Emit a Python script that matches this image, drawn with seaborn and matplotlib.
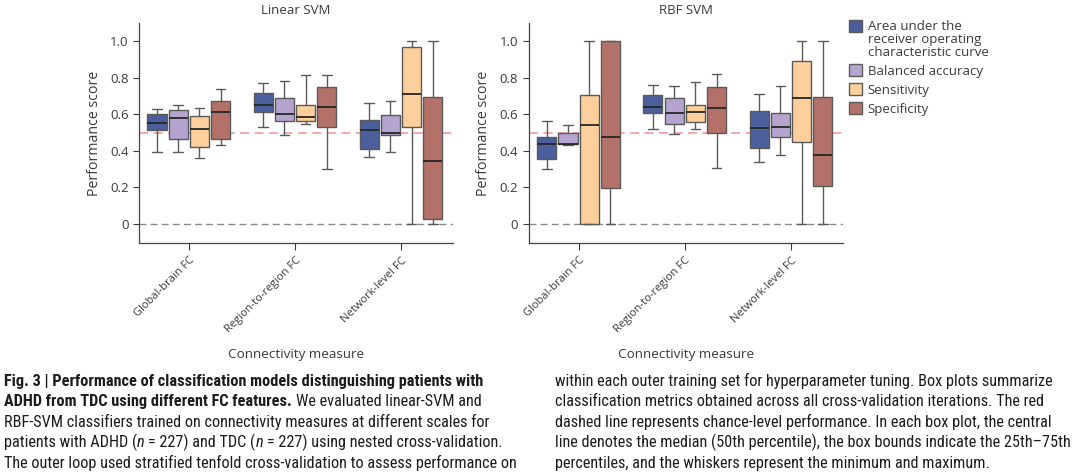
import numpy as np
import pandas as pd
import matplotlib
matplotlib.use("Agg")
import matplotlib.pyplot as plt
import seaborn as sns
from matplotlib import font_manager
from matplotlib.legend_handler import HandlerPatch

# ---------------- data ----------------
measures = ["Global-brain FC", "Region-to-region FC", "Network-level FC"]
metrics = ["AUC", "Balanced accuracy", "Sensitivity", "Specificity"]
metric_labels = ["Area under the\nreceiver operating\ncharacteristic curve",
                 "Balanced accuracy", "Sensitivity", "Specificity"]
palette = ["#4A5F9B", "#B5A4D0", "#FDCF9C", "#B3716A"]

# five-number summaries per measure: [min, q1, median, q3, max]
linear_auc = [[0.396, 0.516, 0.551, 0.600, 0.630],
              [0.531, 0.613, 0.651, 0.714, 0.770],
              [0.365, 0.409, 0.516, 0.566, 0.664]]
linear_bacc = [[0.396, 0.464, 0.577, 0.622, 0.653],
               [0.485, 0.562, 0.600, 0.686, 0.779],
               [0.396, 0.485, 0.500, 0.595, 0.673]]
linear_sens = [[0.361, 0.422, 0.520, 0.591, 0.633],
               [0.546, 0.562, 0.584, 0.650, 0.816],
               [0.000, 0.533, 0.712, 0.965, 1.000]]
linear_spec = [[0.431, 0.464, 0.613, 0.670, 0.737],
               [0.301, 0.533, 0.642, 0.748, 0.816],
               [0.000, 0.029, 0.347, 0.693, 1.000]]

rbf_auc = [[0.299, 0.356, 0.440, 0.478, 0.564],
           [0.520, 0.609, 0.639, 0.703, 0.759],
           [0.341, 0.414, 0.524, 0.619, 0.708]]
rbf_bacc = [[0.434, 0.436, 0.438, 0.496, 0.540],
            [0.491, 0.546, 0.606, 0.688, 0.752],
            [0.380, 0.473, 0.533, 0.606, 0.752]]
rbf_sens = [[0.000, 0.000, 0.540, 0.706, 1.000],
            [0.520, 0.558, 0.611, 0.650, 0.774],
            [0.000, 0.447, 0.690, 0.892, 1.000]]
rbf_spec = [[0.000, 0.195, 0.476, 1.000, 1.000],
            [0.305, 0.500, 0.633, 0.748, 0.819],
            [0.000, 0.206, 0.376, 0.693, 1.000]]

models = {"Linear SVM": [linear_auc, linear_bacc, linear_sens, linear_spec],
          "RBF SVM": [rbf_auc, rbf_bacc, rbf_sens, rbf_spec]}

chance_level = 0.5
yticks = [0, 0.2, 0.4, 0.6, 0.8, 1.0]
ytick_labels = ["0", "0.2", "0.4", "0.6", "0.8", "1.0"]

caption_left = [
    [("Fig. 3 | Performance of classification models distinguishing patients with", "bold", "normal")],
    [("ADHD from TDC using different FC features.", "bold", "normal"),
     (" We evaluated linear-SVM and", "normal", "normal")],
    [("RBF-SVM classifiers trained on connectivity measures at different scales for", "normal", "normal")],
    [("patients with ADHD (", "normal", "normal"), ("n", "normal", "italic"),
     (" = 227) and TDC (", "normal", "normal"), ("n", "normal", "italic"),
     (" = 227) using nested cross-validation.", "normal", "normal")],
    [("The outer loop used stratified tenfold cross-validation to assess performance on", "normal", "normal")],
]
caption_right = [
    [("within each outer training set for hyperparameter tuning. Box plots summarize", "normal", "normal")],
    [("classification metrics obtained across all cross-validation iterations. The red", "normal", "normal")],
    [("dashed line represents chance-level performance. In each box plot, the central", "normal", "normal")],
    [("line denotes the median (50th percentile), the box bounds indicate the 25th\u201375th", "normal", "normal")],
    [("percentiles, and the whiskers represent the minimum and maximum.", "normal", "normal")],
]

# ---------------- styling ----------------
sns.set_style("ticks")
avail = {f.name for f in font_manager.fontManager.ttflist}
chart_font = "Open Sans" if "Open Sans" in avail else "DejaVu Sans"
plt.rcParams["font.family"] = [chart_font, "DejaVu Sans"]
cap_font = "Liberation Sans"
for cand in ["Liberation Sans Narrow", "Roboto Condensed", "DejaVu Sans Condensed"]:
    if cand in avail:
        cap_font = cand
        break

text_col = "#3a3a3a"
fig = plt.figure(figsize=(10.8, 4.75), dpi=100)

W, H = 1080, 475
ax_px = [(139, 22.7, 453, 243.3), (528.7, 22.7, 843, 243.3)]


class TopAlignedPatch(HandlerPatch):
    """Legend square aligned with the first line of a multi-line label."""

    def __init__(self, shift, **kw):
        super().__init__(**kw)
        self.shift = shift

    def create_artists(self, legend, orig_handle, xdescent, ydescent,
                       width, height, fontsize, trans):
        return super().create_artists(legend, orig_handle, xdescent,
                                      ydescent - self.shift, width, height,
                                      fontsize, trans)


for i, (name, arrs) in enumerate(models.items()):
    x0, y0, x1, y1 = ax_px[i]
    ax = fig.add_axes([x0 / W, 1 - y1 / H, (x1 - x0) / W, (y1 - y0) / H])
    rows = []
    for mi, metric in enumerate(metrics):
        for gi, meas in enumerate(measures):
            for v in arrs[mi][gi]:
                rows.append({"measure": meas, "metric": metric, "score": v})
    df = pd.DataFrame(rows)
    ax.axhline(0, color="#8a8a8a", lw=1.0, ls=(0, (5, 3)), zorder=0)
    ax.axhline(chance_level, color="#F4A3A3", lw=1.3, ls=(0, (5, 3)), zorder=0)
    sns.boxplot(data=df, x="measure", y="score", hue="metric",
                order=measures, hue_order=metrics, palette=palette,
                saturation=1, whis=(0, 100), width=0.8, gap=0.1,
                showfliers=False, linewidth=1.0, linecolor="#5a5a5a",
                medianprops=dict(color="#262626", linewidth=1.3),
                legend=(i == 1), ax=ax)
    ax.set_xlim(-0.47, 2.49)
    ax.set_ylim(-0.105, 1.10)
    ax.set_yticks(yticks)
    ax.set_yticklabels(ytick_labels)
    ax.set_title(name, fontsize=9.5, color=text_col, pad=6)
    ax.set_ylabel("Performance score", fontsize=10.2, color=text_col, labelpad=6)
    ax.set_xlabel("Connectivity measure", fontsize=9.7, color=text_col, labelpad=9)
    ax.tick_params(axis="y", labelsize=9.5, colors=text_col, length=4, width=0.8)
    ax.tick_params(axis="x", labelsize=8, colors=text_col, length=5, width=0.8)
    plt.setp(ax.get_xticklabels(), rotation=45, ha="right", rotation_mode="anchor")
    for s in ["top", "right"]:
        ax.spines[s].set_visible(False)
    for s in ["left", "bottom"]:
        ax.spines[s].set_color("#444444")
        ax.spines[s].set_linewidth(0.9)
    if i == 1:
        handles, _ = ax.get_legend_handles_labels()
        leg = ax.legend(handles, metric_labels, loc="upper left",
                        bbox_to_anchor=(1.018, 1.014), frameon=False, fontsize=9.5,
                        handlelength=1.0, handleheight=1.0, handletextpad=0.45,
                        labelspacing=0.42, borderaxespad=0, borderpad=0,
                        labelcolor=text_col,
                        handler_map={handles[0]: TopAlignedPatch(shift=9.6)})
        for t in leg.get_texts():
            t.set_linespacing(1.0)

# ---------------- caption ----------------
renderer = fig.canvas.get_renderer()


def text_w(s, **kw):
    t = fig.text(0, 0, s, **kw)
    w = t.get_window_extent(renderer).width
    t.remove()
    return w


# choose caption size so a reference line has the width it has in the source
calib = caption_right[0][0][0]
w10 = text_w(calib, fontsize=10, family=[cap_font, "DejaVu Sans"])
cap_size = 10 * 495.0 / w10


def draw_caption(lines, x_px, baseline0, step):
    for li, segs in enumerate(lines):
        x = x_px
        y = 1 - (baseline0 + li * step) / H
        for s, weight, style in segs:
            kw = dict(fontsize=cap_size, fontweight=weight, style=style,
                      family=[cap_font, "DejaVu Sans"], color="#1c1c1c")
            lead = len(s) - len(s.lstrip(" "))
            trail = len(s) - len(s.rstrip(" "))
            sp = text_w("x x", **kw) - text_w("xx", **kw)
            x += lead * sp
            core = s.strip(" ")
            t = fig.text(x / W, y, core, va="baseline", ha="left", **kw)
            x += t.get_window_extent(renderer).width + trail * sp


draw_caption(caption_left, 4, 386, 20.4)
draw_caption(caption_right, 555, 386, 20.4)

fig.savefig("out.png", dpi=100)
